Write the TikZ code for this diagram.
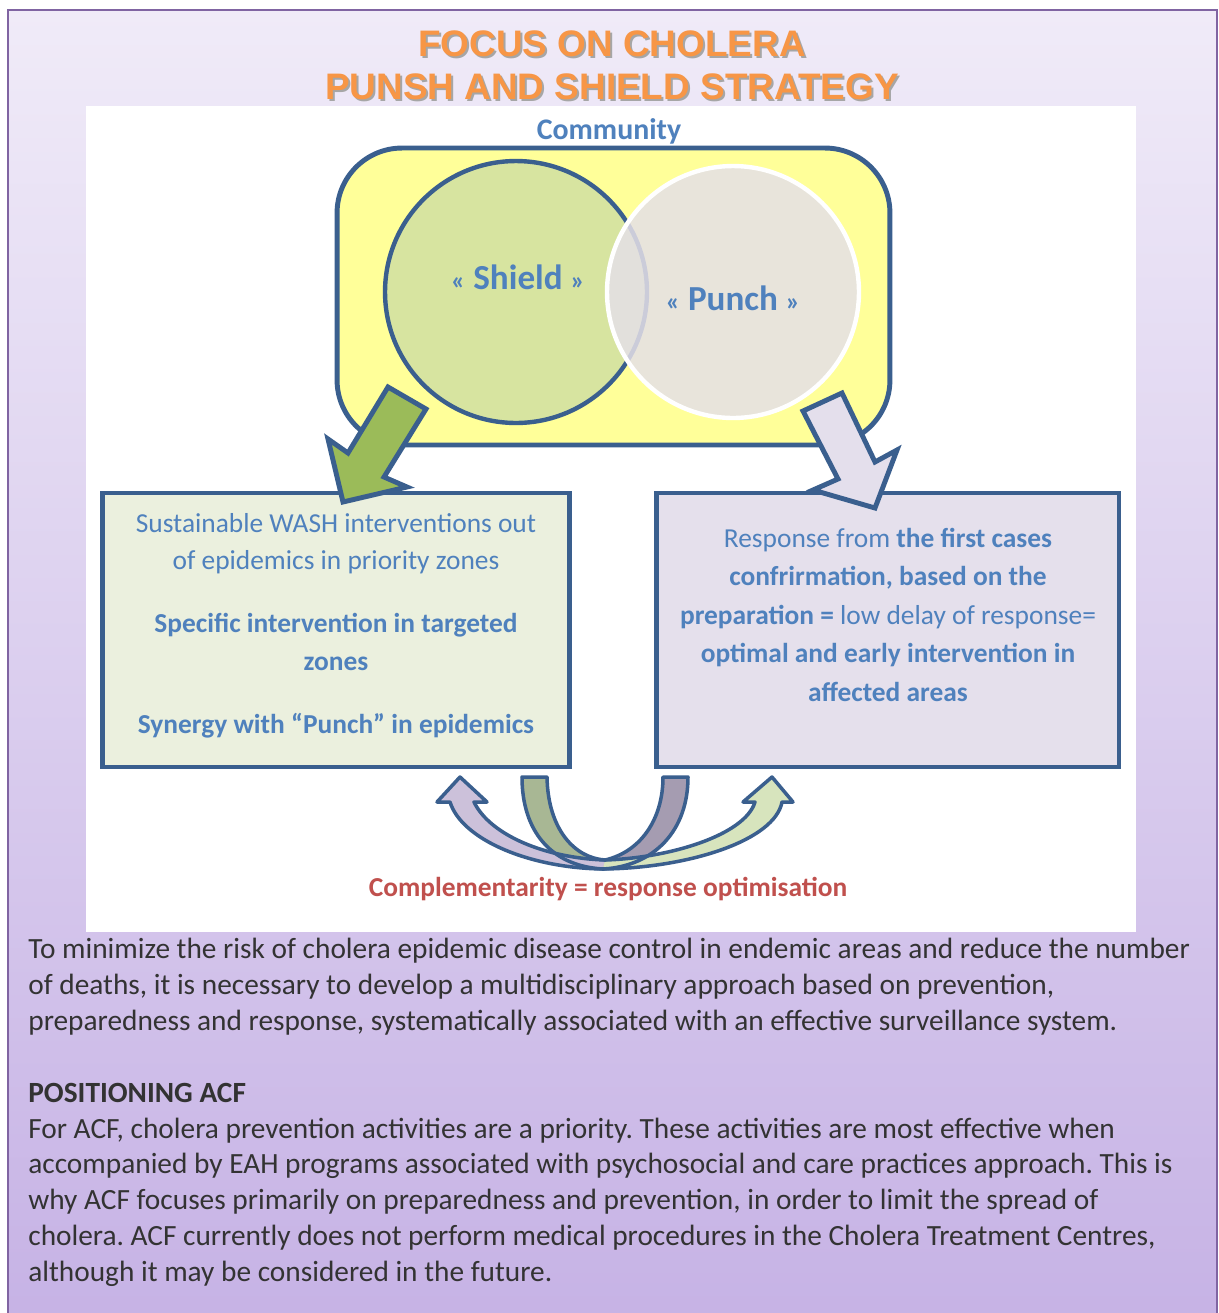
\documentclass[tikz,border=0pt]{standalone}
\usepackage{fontspec}
\setmainfont{Carlito}
\newfontfamily\titlefont{Liberation Sans}
\definecolor{frameline}{HTML}{8064A2}
\definecolor{bgtop}{HTML}{F0EBF8}
\definecolor{bgbot}{HTML}{C6B2E5}
\definecolor{edge}{HTML}{3A5F8E}
\definecolor{txtblue}{HTML}{4F81BD}
\definecolor{titleorange}{HTML}{F79646}
\definecolor{commyellow}{HTML}{FFFF99}
\definecolor{shieldfill}{HTML}{D7E4A0}
\definecolor{punchfill}{HTML}{E5E0E7}
\definecolor{shieldarrow}{HTML}{9BBB59}
\definecolor{puncharrow}{HTML}{E4DFEC}
\definecolor{shieldbox}{HTML}{EBF0DE}
\definecolor{punchbox}{HTML}{E5E0EC}
\definecolor{backpurple}{HTML}{A59CB1}
\definecolor{frontpurple}{HTML}{CCC1DA}
\definecolor{backgreen}{HTML}{A8B794}
\definecolor{frontgreen}{HTML}{D7E4BD}
\definecolor{redtext}{HTML}{C0504D}
\definecolor{bodytext}{HTML}{333333}
\usetikzlibrary{positioning}
\frenchspacing

\begin{document}
\begin{tikzpicture}[x=0.02cm, y=-0.02cm,
  outline/.style={draw=edge, line width=2.8pt, line join=miter},
  bandline/.style={draw=edge, line width=2pt, line join=round},
  titletext/.style={font=\titlefont\bfseries\fontsize{21}{25}\selectfont, anchor=base},
  boxtext/.style={font=\fontsize{15.6}{18}\selectfont, text=txtblue, anchor=base},
  boldbox/.style={boxtext, font=\bfseries\fontsize{15.6}{18}\selectfont},
  bodyline/.style={font=\fontsize{16.7}{20}\selectfont, text=bodytext, anchor=base west, inner sep=0pt}]
\useasboundingbox (0,0) rectangle (1219,1313);
\path[draw=frameline, line width=1pt, top color=bgtop, bottom color=bgbot] (8,10) rectangle (1217,1330);
\fill[white] (86,106) rectangle (1136,932);

\node[titletext, text=black!35] (shadow1) at (614,58) {FOCUS ON CHOLERA};
\node[titletext, text=titleorange] (title1) at (612,56) {FOCUS ON CHOLERA};
\node[titletext, text=black!35] (shadow2) at (614,101) {PUNSH AND SHIELD STRATEGY};
\node[titletext, text=titleorange] (title2) at (612,99) {PUNSH AND SHIELD STRATEGY};

\node[font=\bfseries\fontsize{17}{20}\selectfont, text=txtblue, anchor=base] (commlabel) at (609,139) {Community};
\node[outline, fill=commyellow, rounded corners=1.3cm, minimum width=11.06cm, minimum height=5.94cm] (community) at (613.5,296.5) {};
\node[circle, draw=edge, line width=2.5pt, fill=shieldfill, minimum size=5.24cm] (shield) at (516,292) {};
\node[circle, draw=white, line width=2.5pt, fill=punchfill, fill opacity=0.85, minimum size=5.04cm] (punch) at (733,292) {};
\node[font=\bfseries\fontsize{20}{24}\selectfont, text=txtblue, anchor=base] (shieldlabel) at (518,289) {{\fontsize{15}{18}\selectfont «} Shield {\fontsize{15}{18}\selectfont »}};
\node[font=\bfseries\fontsize{20}{24}\selectfont, text=txtblue, anchor=base] (punchlabel) at (733,310) {{\fontsize{15}{18}\selectfont «} Punch {\fontsize{15}{18}\selectfont »}};

\node[outline, fill=shieldbox, minimum width=9.36cm, minimum height=5.48cm] (shieldbox) at (336,630) {};
\node[outline, fill=punchbox, minimum width=9.26cm, minimum height=5.48cm] (punchbox) at (887.5,630) {};

\path[outline, fill=shieldarrow] (388,387) -- (426,409) -- (384,477) -- (407,487) -- (343,502) -- (328,439) -- (348,453) -- cycle;
\path[outline, fill=puncharrow] (842,393) -- (875,462) -- (897,450) -- (875,508) -- (813,490) -- (838,479) -- (803,411) -- cycle;

\node[boxtext] (s1) at (336,532) {Sustainable WASH interventions out};
\node[boxtext] (s2) at (336,569) {of epidemics in priority zones};
\node[boldbox] (s3) at (336,632) {Specific intervention in targeted};
\node[boldbox] (s4) at (336,670) {zones};
\node[boldbox] (s5) at (336,733) {Synergy with “Punch” in epidemics};

\node[boxtext] (p1) at (888,547) {Response from \textbf{the first cases}};
\node[boldbox] (p2) at (888,585) {confrirmation, based on the};
\node[boxtext] (p3) at (888,624) {\textbf{preparation =} low delay of response=};
\node[boldbox] (p4) at (888,662) {optimal and early intervention in};
\node[boldbox] (p5) at (888,701) {affected areas};

\fill[backgreen] (522,777) -- (547,777) .. controls (548,830) and (575,858) .. (605,860) -- (603,869) .. controls (550,866) and (522,830) .. (522,777) -- cycle;
\fill[backpurple] (663,777) -- (688,777) .. controls (688,830) and (655,866) .. (603,869) -- (605,860) .. controls (640,852) and (663,820) .. (663,777) -- cycle;
\fill[frontpurple] (603,869) .. controls (530,868) and (462,840) .. (450,802) -- (437,802) -- (460,777) -- (487,802) -- (474,802) .. controls (490,835) and (545,858) .. (605,860) -- cycle;
\fill[frontgreen] (603,869) .. controls (690,868) and (775,840) .. (782,802) -- (793,802) -- (772,777) -- (743,802) -- (755,802) .. controls (745,835) and (670,858) .. (605,860) -- cycle;
\path[bandline] (522,777) -- (547,777) .. controls (548,830) and (575,858) .. (605,860) .. controls (670,858) and (745,835) .. (755,802) -- (743,802) -- (772,777) -- (793,802) -- (782,802) .. controls (775,840) and (690,868) .. (603,869) .. controls (550,866) and (522,830) .. (522,777) -- cycle;
\path[bandline] (688,777) -- (663,777) .. controls (663,820) and (640,852) .. (605,860) .. controls (545,858) and (490,835) .. (474,802) -- (487,802) -- (460,777) -- (437,802) -- (450,802) .. controls (462,840) and (530,868) .. (603,869) .. controls (655,866) and (688,830) .. (688,777) -- cycle;
\node[font=\bfseries\fontsize{15.6}{18}\selectfont, text=redtext, anchor=base] (complabel) at (608,896) {Complementarity = response optimisation};

\node[bodyline] (b1) at (28,958) {To minimize the risk of cholera epidemic disease control in endemic areas and reduce the number};
\node[bodyline] (b2) at (28,994) {of deaths, it is necessary to develop a multidisciplinary approach based on prevention,};
\node[bodyline] (b3) at (28,1030) {preparedness and response, systematically associated with an effective surveillance system.};
\node[bodyline, font=\bfseries\fontsize{16.7}{20}\selectfont] (b4) at (28,1102) {POSITIONING ACF};
\node[bodyline] (b5) at (28,1138) {For ACF, cholera prevention activities are a priority. These activities are most effective when};
\node[bodyline] (b6) at (28,1173) {accompanied by EAH programs associated with psychosocial and care practices approach. This is};
\node[bodyline] (b7) at (28,1209) {why ACF focuses primarily on preparedness and prevention, in order to limit the spread of};
\node[bodyline] (b8) at (28,1245) {cholera. ACF currently does not perform medical procedures in the Cholera Treatment Centres,};
\node[bodyline] (b9) at (28,1281) {although it may be considered in the future.};
\end{tikzpicture}
\end{document}
